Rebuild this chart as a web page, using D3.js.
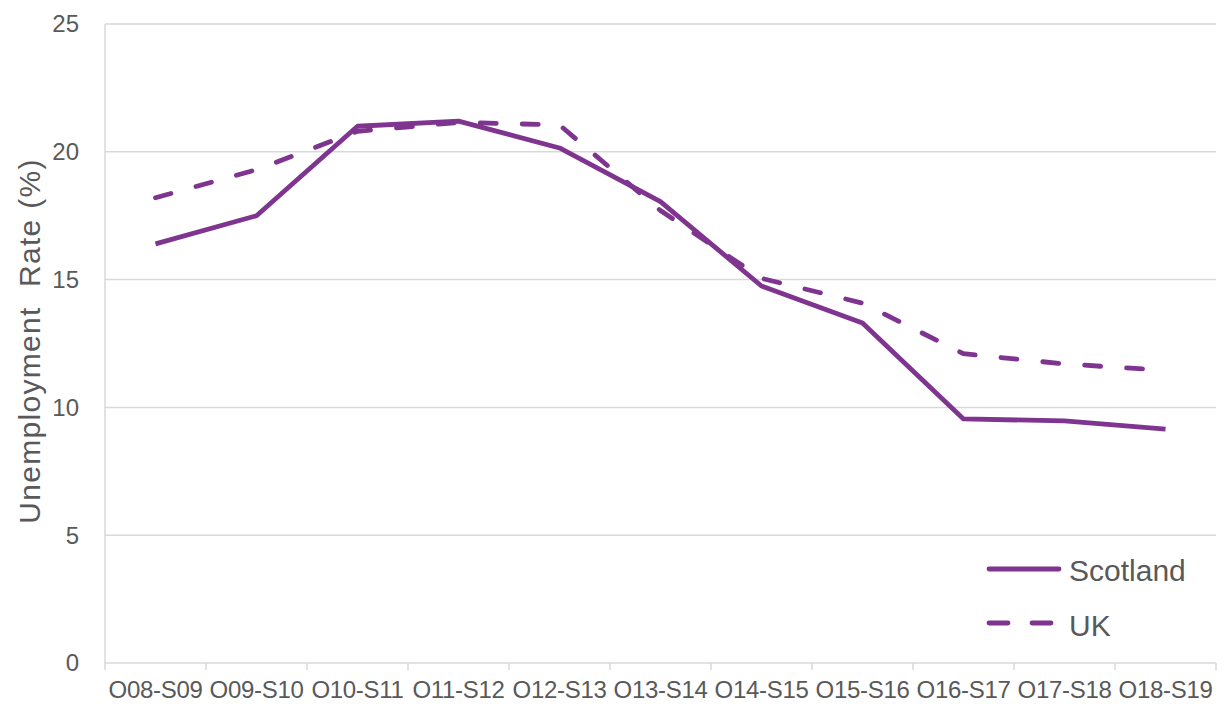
<!doctype html>
<html>
<head>
<meta charset="utf-8"/>
<title>Unemployment rate</title>
<script src="https://d3js.org/d3.v7.min.js"></script>
<style>
  body { margin: 0; background: #fff; }
  text { font-family: "Liberation Sans", Arial, sans-serif; fill: #595959; }
</style>
</head>
<body>
<div id="chart"></div>
<script>
// data
var periods = ["O08-S09","O09-S10","O10-S11","O11-S12","O12-S13","O13-S14","O14-S15","O15-S16","O16-S17","O17-S18","O18-S19"];
var scotland = [16.4, 17.5, 21.0, 21.2, 20.15, 18.05, 14.75, 13.3, 9.55, 9.47, 9.15];
var uk = [18.2, 19.3, 20.8, 21.15, 21.05, 17.7, 15.05, 14.08, 12.1, 11.7, 11.45];
var yTicks = [0, 5, 10, 15, 20, 25];

var W = 1226, H = 704;
var m = {left: 105, right: 10, top: 24, bottom: 41};
var purple = "#7f3590";

var svg = d3.select("#chart").append("svg")
  .attr("width", W).attr("height", H);

var x = d3.scaleBand().domain(periods).range([m.left, W - m.right]);
var y = d3.scaleLinear().domain([0, 25]).range([H - m.bottom, m.top]);

// gridlines
svg.append("g").selectAll("line").data(yTicks).enter().append("line")
  .attr("x1", m.left).attr("x2", W - m.right)
  .attr("y1", function(d){ return y(d); }).attr("y2", function(d){ return y(d); })
  .attr("stroke", "#d9d9d9").attr("stroke-width", 1.5);

// left axis line
svg.append("line")
  .attr("x1", m.left).attr("x2", m.left)
  .attr("y1", m.top).attr("y2", y(0))
  .attr("stroke", "#d9d9d9").attr("stroke-width", 1.5);

// y tick labels
svg.append("g").selectAll("text").data(yTicks).enter().append("text")
  .attr("x", 79).attr("y", function(d){ return y(d); })
  .attr("dy", "0.35em").attr("text-anchor", "end")
  .style("font-size", "24px")
  .text(function(d){ return d; });

// x axis tick marks
var edges = periods.map(function(p){ return x(p); }).concat([W - m.right]);
svg.append("g").selectAll("line").data(edges).enter().append("line")
  .attr("x1", function(d){ return d; }).attr("x2", function(d){ return d; })
  .attr("y1", y(0)).attr("y2", y(0) + 7)
  .attr("stroke", "#d9d9d9").attr("stroke-width", 1.5);

svg.append("g").selectAll("text").data(periods).enter().append("text")
  .attr("x", function(d){ return x(d) + x.bandwidth() / 2; })
  .attr("y", y(0) + 35)
  .attr("text-anchor", "middle")
  .style("font-size", "24px")
  .style("letter-spacing", "-0.3px")
  .text(function(d){ return d; });

// y axis title
svg.append("text")
  .attr("transform", "translate(40,341) rotate(-90)")
  .attr("text-anchor", "middle")
  .style("font-size", "30px")
  .style("letter-spacing", "1.3px")
  .attr("xml:space", "preserve")
  .text("Unemployment  Rate (%)");

var line = d3.line()
  .x(function(d, i){ return x(periods[i]) + x.bandwidth() / 2; })
  .y(function(d){ return y(d); });

svg.append("path").datum(uk)
  .attr("d", line).attr("fill", "none")
  .attr("stroke", purple).attr("stroke-width", 4.8)
  .attr("stroke-linecap", "round")
  .attr("stroke-dasharray", "16,26");

svg.append("path").datum(scotland)
  .attr("d", line).attr("fill", "none")
  .attr("stroke", purple).attr("stroke-width", 4.8)
  .attr("stroke-linejoin", "round");

// legend
var legend = [
  {name: "Scotland", dash: null, y: 569, x2: 1059, base: 581},
  {name: "UK", dash: "19,24", y: 623, x2: 1051, base: 636}
];
var lg = svg.append("g").selectAll("g").data(legend).enter().append("g");
lg.append("line")
  .attr("x1", 989).attr("x2", function(d){ return d.x2; })
  .attr("y1", function(d){ return d.y; }).attr("y2", function(d){ return d.y; })
  .attr("stroke", purple).attr("stroke-width", 4.8)
  .attr("stroke-linecap", "round")
  .attr("stroke-dasharray", function(d){ return d.dash; });
lg.append("text")
  .attr("x", 1069).attr("y", function(d){ return d.base; })
  .style("font-size", "30px")
  .text(function(d){ return d.name; });
</script>
</body>
</html>
